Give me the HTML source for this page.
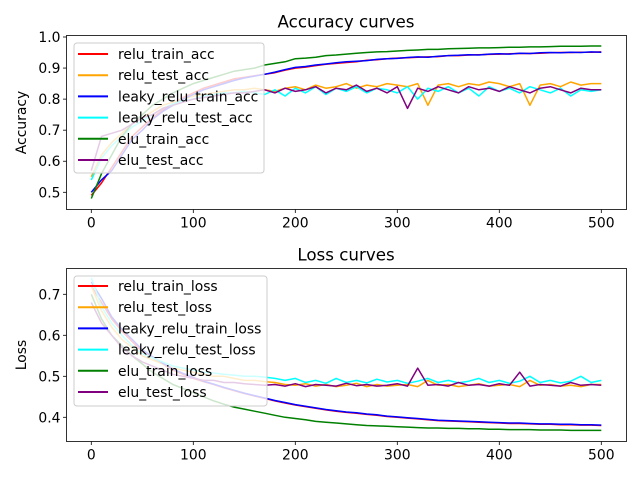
<!DOCTYPE html>
<html><head><meta charset="utf-8">
<style>
body{margin:0;background:#fff;}
svg{display:block;font-family:"DejaVu Sans","Liberation Sans",sans-serif;}
</style></head>
<body>
<svg id="chart" width="640" height="480" viewBox="0 0 640 480" xmlns="http://www.w3.org/2000/svg">
<rect width="640" height="480" fill="#fff"/>
</svg>
<script>
const epochs=[0,10,20,30,40,50,60,70,80,90,100,110,120,130,140,150,160,170,180,190,200,210,220,230,240,250,260,270,280,290,300,310,320,330,340,350,360,370,380,390,400,410,420,430,440,450,460,470,480,490,500];
const xTicks=[0,100,200,300,400,500];
const accTicks=[0.5,0.6,0.7,0.8,0.9,1.0];
const lossTicks=[0.4,0.5,0.6,0.7];

const reluTrainAcc=[0.49,0.53,0.58,0.63,0.68,0.71,0.74,0.765,0.785,0.805,0.82,0.835,0.845,0.855,0.865,0.87,0.875,0.88,0.885,0.893,0.9,0.903,0.908,0.912,0.915,0.918,0.92,0.925,0.927,0.93,0.932,0.933,0.935,0.936,0.937,0.94,0.94,0.942,0.943,0.944,0.945,0.946,0.947,0.947,0.948,0.949,0.95,0.95,0.951,0.951,0.952];
const reluTestAcc=[0.55,0.62,0.66,0.69,0.72,0.74,0.76,0.78,0.79,0.80,0.81,0.815,0.82,0.825,0.83,0.83,0.835,0.83,0.825,0.835,0.84,0.83,0.845,0.835,0.84,0.85,0.835,0.845,0.84,0.85,0.845,0.84,0.85,0.78,0.845,0.85,0.84,0.85,0.845,0.855,0.85,0.84,0.85,0.78,0.845,0.85,0.84,0.855,0.845,0.85,0.85];
const leakyTrainAcc=[0.50,0.54,0.57,0.62,0.67,0.70,0.735,0.76,0.78,0.80,0.815,0.83,0.84,0.85,0.86,0.868,0.874,0.88,0.887,0.895,0.902,0.905,0.91,0.913,0.917,0.92,0.922,0.924,0.928,0.93,0.931,0.934,0.936,0.935,0.938,0.94,0.941,0.943,0.942,0.945,0.946,0.945,0.948,0.947,0.949,0.95,0.949,0.951,0.95,0.952,0.951];
const leakyTestAcc=[0.54,0.61,0.65,0.68,0.71,0.73,0.75,0.77,0.785,0.795,0.80,0.81,0.815,0.82,0.82,0.825,0.82,0.815,0.83,0.81,0.835,0.82,0.84,0.815,0.835,0.825,0.84,0.82,0.835,0.83,0.82,0.84,0.80,0.835,0.825,0.84,0.82,0.835,0.81,0.84,0.825,0.835,0.82,0.84,0.83,0.82,0.835,0.81,0.83,0.825,0.83];
const eluTrainAcc=[0.48,0.56,0.62,0.68,0.72,0.75,0.78,0.80,0.82,0.835,0.85,0.86,0.87,0.88,0.89,0.895,0.90,0.91,0.915,0.92,0.93,0.932,0.935,0.94,0.942,0.945,0.948,0.95,0.952,0.953,0.955,0.957,0.958,0.96,0.96,0.962,0.963,0.964,0.965,0.965,0.966,0.967,0.967,0.968,0.968,0.969,0.97,0.97,0.97,0.971,0.971];
const eluTestAcc=[0.57,0.68,0.69,0.70,0.72,0.74,0.75,0.77,0.78,0.79,0.80,0.805,0.81,0.815,0.82,0.82,0.825,0.83,0.82,0.835,0.825,0.83,0.84,0.82,0.835,0.83,0.845,0.825,0.835,0.82,0.84,0.77,0.835,0.825,0.84,0.83,0.82,0.84,0.83,0.835,0.825,0.84,0.83,0.82,0.835,0.84,0.83,0.82,0.835,0.83,0.83];

const reluTrainLoss=[0.72,0.68,0.64,0.61,0.585,0.56,0.545,0.53,0.515,0.505,0.495,0.487,0.48,0.472,0.465,0.458,0.452,0.446,0.44,0.435,0.43,0.426,0.422,0.418,0.415,0.412,0.41,0.407,0.405,0.402,0.40,0.398,0.396,0.394,0.392,0.391,0.39,0.389,0.388,0.387,0.386,0.385,0.385,0.384,0.383,0.383,0.382,0.382,0.381,0.381,0.38];
const reluTestLoss=[0.72,0.66,0.62,0.59,0.57,0.55,0.54,0.53,0.52,0.515,0.51,0.505,0.50,0.50,0.495,0.49,0.49,0.487,0.485,0.48,0.478,0.482,0.476,0.48,0.475,0.478,0.483,0.475,0.48,0.476,0.478,0.48,0.475,0.49,0.478,0.48,0.475,0.478,0.482,0.476,0.478,0.48,0.475,0.49,0.478,0.48,0.476,0.478,0.475,0.48,0.48];
const leakyTrainLoss=[0.73,0.69,0.645,0.615,0.59,0.565,0.548,0.532,0.518,0.507,0.497,0.488,0.481,0.473,0.466,0.459,0.453,0.447,0.441,0.436,0.431,0.427,0.423,0.419,0.416,0.413,0.411,0.408,0.406,0.403,0.401,0.399,0.397,0.395,0.393,0.392,0.391,0.39,0.389,0.388,0.387,0.386,0.386,0.385,0.384,0.384,0.383,0.383,0.382,0.382,0.381];
const leakyTestLoss=[0.74,0.67,0.63,0.60,0.575,0.555,0.545,0.535,0.525,0.52,0.515,0.51,0.508,0.505,0.503,0.50,0.50,0.498,0.495,0.49,0.495,0.485,0.49,0.483,0.495,0.485,0.49,0.484,0.493,0.486,0.49,0.483,0.488,0.495,0.485,0.49,0.484,0.488,0.495,0.485,0.49,0.483,0.488,0.50,0.485,0.49,0.484,0.488,0.50,0.485,0.49];
const eluTrainLoss=[0.70,0.64,0.60,0.575,0.55,0.53,0.51,0.495,0.48,0.47,0.46,0.45,0.44,0.432,0.425,0.42,0.415,0.41,0.405,0.40,0.397,0.394,0.39,0.388,0.386,0.384,0.382,0.38,0.379,0.378,0.377,0.376,0.375,0.374,0.374,0.373,0.373,0.372,0.372,0.371,0.371,0.37,0.37,0.37,0.369,0.369,0.369,0.368,0.368,0.368,0.368];
const eluTestLoss=[0.68,0.63,0.60,0.57,0.55,0.535,0.525,0.515,0.505,0.50,0.495,0.49,0.49,0.485,0.485,0.482,0.48,0.478,0.48,0.476,0.482,0.475,0.48,0.478,0.476,0.483,0.477,0.48,0.476,0.478,0.482,0.476,0.52,0.478,0.48,0.476,0.485,0.478,0.48,0.476,0.482,0.478,0.51,0.476,0.48,0.478,0.476,0.485,0.478,0.48,0.478];

const NS="http://www.w3.org/2000/svg";
const svg=document.getElementById('chart');
function mk(tag,attrs,parent){const e=document.createElementNS(NS,tag);for(const k in attrs)e.setAttribute(k,attrs[k]);(parent||svg).appendChild(e);return e;}

const L=66.5,R=626.5;
function xScale(v){return 91.3+(v/100)*102;}
const panels=[
 {top:35.5,bottom:209.5,y:v=>192.3-(v-0.5)/0.1*31.06,ticks:accTicks,fmt:1,title:'Accuracy curves',ylabel:'Accuracy',
  series:[[reluTrainAcc,'#ff0000','relu_train_acc'],[reluTestAcc,'#ffa500','relu_test_acc'],[leakyTrainAcc,'#0000ff','leaky_relu_train_acc'],[leakyTestAcc,'#00ffff','leaky_relu_test_acc'],[eluTrainAcc,'#008000','elu_train_acc'],[eluTestAcc,'#800080','elu_test_acc']],
  legend:{x:74,y:43,w:190,h:130,row0:54}},
 {top:268.5,bottom:441.5,y:v=>417.3-(v-0.4)/0.1*41,ticks:lossTicks,fmt:1,title:'Loss curves',ylabel:'Loss',
  series:[[reluTrainLoss,'#ff0000','relu_train_loss'],[reluTestLoss,'#ffa500','relu_test_loss'],[leakyTrainLoss,'#0000ff','leaky_relu_train_loss'],[leakyTestLoss,'#00ffff','leaky_relu_test_loss'],[eluTrainLoss,'#008000','elu_train_loss'],[eluTestLoss,'#800080','elu_test_loss']],
  legend:{x:74,y:276,w:193,h:130,row0:286}}
];
panels.forEach((p,pi)=>{
  const g=mk('g',{});
  
  
  const t=mk('text',{x:346,y:p.top-8,'text-anchor':'middle','font-size':'16.7',fill:'#000'},g);
  t.textContent=p.title;
  
  
  const yl=mk('text',{x:0,y:0,'text-anchor':'middle','font-size':'13.9',fill:'#000',transform:`translate(26,${(p.top+p.bottom)/2}) rotate(-90)`},g);
  yl.textContent=p.ylabel;
  
  
  p.series.forEach(s=>{
    const d=s[0].map((v,i)=>(i?'L':'M')+xScale(epochs[i]).toFixed(1)+','+p.y(v).toFixed(1)).join('');
    const path=mk('path',{d:d,fill:'none',stroke:s[1],'stroke-width':1.5,'stroke-linejoin':'round'},g);
    
    
  });
  xTicks.forEach(v=>{
    const x=xScale(v);
    mk('line',{x1:x,x2:x,y1:p.bottom,y2:p.bottom+3.5,stroke:'#000','stroke-width':0.8},g);
    const tl=mk('text',{x:x,y:p.bottom+18,'text-anchor':'middle','font-size':'13.9',fill:'#000'},g);
    tl.textContent=v;
    
    
  });
  p.ticks.forEach(v=>{
    const y=p.y(v);
    mk('line',{x1:L-3.5,x2:L,y1:y,y2:y,stroke:'#000','stroke-width':0.8},g);
    const tl=mk('text',{x:L-6,y:y+5,'text-anchor':'end','font-size':'13.9',fill:'#000'},g);
    tl.textContent=v.toFixed(p.fmt);
    
    
  });
  const lg=mk('g',{},g);
  
  
  mk('rect',{x:p.legend.x,y:p.legend.y,width:p.legend.w,height:p.legend.h,rx:3,fill:'#fff','fill-opacity':0.8,stroke:'#ccc','stroke-width':1},lg);
  p.series.forEach((s,i)=>{
    const y=p.legend.row0+i*21.2;
    const ll=mk('line',{x1:78,x2:108,y1:y,y2:y,stroke:s[1],'stroke-width':2},lg);
    
    
    const lt=mk('text',{x:118,y:y+5,'font-size':'13.9',fill:'#000'},lg);
    lt.textContent=s[2];
    
    
  });
  const fr=mk('rect',{x:L,y:p.top,width:R-L,height:p.bottom-p.top,fill:'none',stroke:'#000','stroke-width':0.8},g);
  
  
});
</script>
</body></html>
